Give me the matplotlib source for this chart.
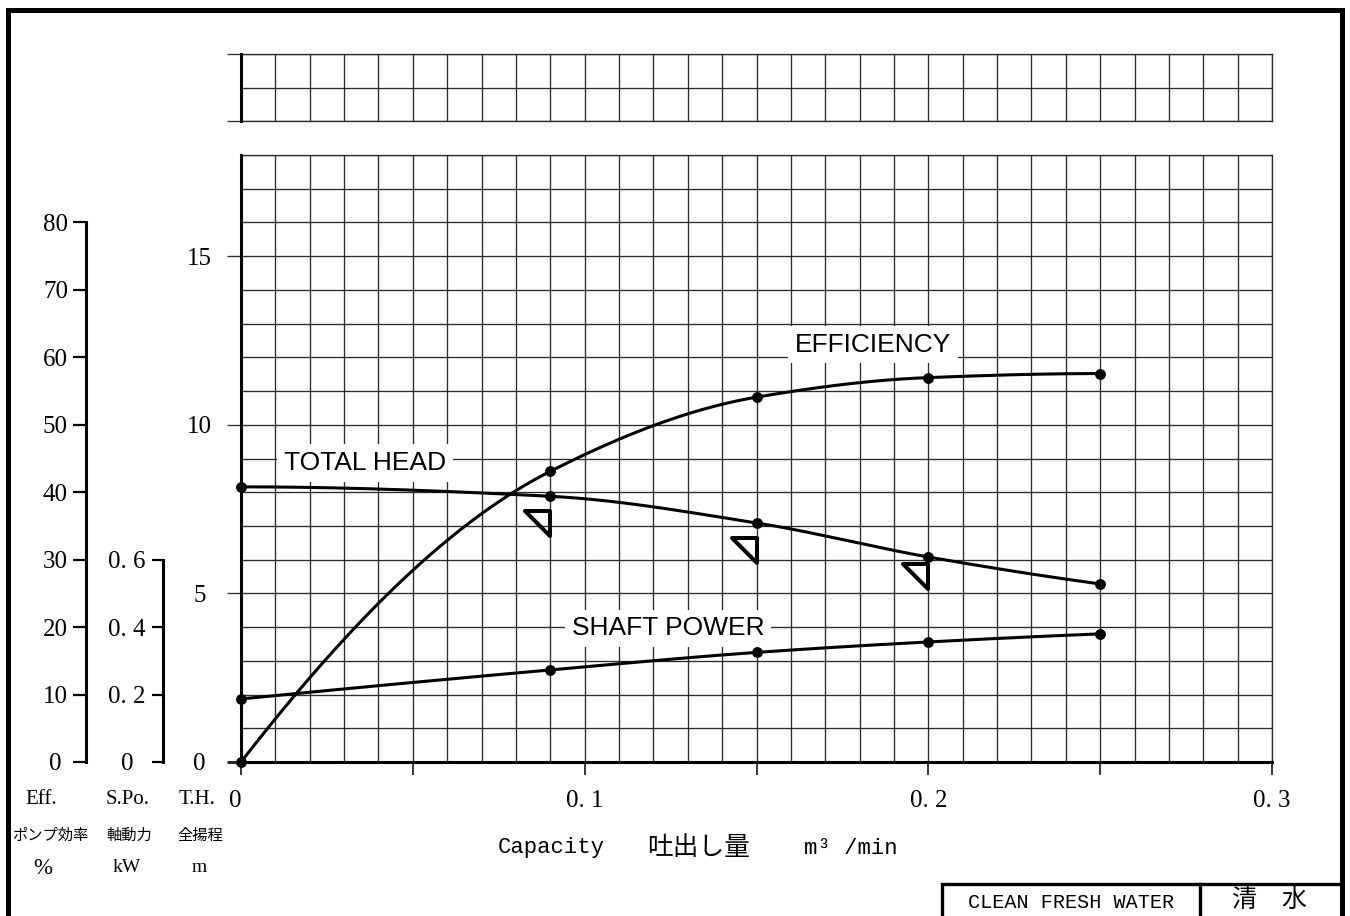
import numpy as np
import matplotlib
matplotlib.use("Agg")
import matplotlib.pyplot as plt
from matplotlib.ticker import MultipleLocator, FixedLocator
from matplotlib.path import Path
from matplotlib.markers import MarkerStyle
from matplotlib.lines import Line2D
from matplotlib.transforms import ScaledTranslation

# ---------------- data ----------------
capacity = [0.0, 0.09, 0.15, 0.20, 0.25]          # m3/min
total_head = [8.16, 7.88, 7.09, 6.08, 5.28]       # m
efficiency = [0.0, 43.1, 54.1, 57.0, 57.6]        # %
shaft_power = [0.187, 0.273, 0.325, 0.356, 0.380] # kW

rated_capacity = [0.09, 0.15, 0.20]
rated_head = [7.45, 6.65, 5.87]

x_ticks = [0.0, 0.05, 0.10, 0.15, 0.20, 0.25, 0.30]
x_tick_labels = ["0", "", "0. 1", "", "0. 2", "", "0. 3"]
head_ticks = [0, 5, 10, 15]
head_tick_labels = ["0", "5", "10", "15"]
eff_ticks = [0, 10, 20, 30, 40, 50, 60, 70, 80]
eff_tick_labels = ["0", "10", "20", "30", "40", "50", "60", "70", "80"]
power_ticks = [0.0, 0.2, 0.4, 0.6]
power_tick_labels = ["0", "0. 2", "0. 4", "0. 6"]

# ---------------- helpers ----------------
W, H = 1350, 916
def fx(px):
    return px / W
def fy(py):
    return 1 - py / H

def pchip(x, y, xs):
    x = np.asarray(x, float); y = np.asarray(y, float)
    h = np.diff(x); d = np.diff(y) / h
    n = len(x)
    m = np.zeros(n)
    for k in range(1, n - 1):
        if d[k - 1] * d[k] > 0:
            w1 = 2 * h[k] + h[k - 1]; w2 = h[k] + 2 * h[k - 1]
            m[k] = (w1 + w2) / (w1 / d[k - 1] + w2 / d[k])
    def end(h0, h1, d0, d1):
        mm = ((2 * h0 + h1) * d0 - h0 * d1) / (h0 + h1)
        if np.sign(mm) != np.sign(d0):
            mm = 0.0
        elif np.sign(d0) != np.sign(d1) and abs(mm) > abs(3 * d0):
            mm = 3 * d0
        return mm
    m[0] = end(h[0], h[1], d[0], d[1])
    m[-1] = end(h[-1], h[-2], d[-1], d[-2])
    idx = np.clip(np.searchsorted(x, xs) - 1, 0, n - 2)
    t = (xs - x[idx]) / h[idx]
    h00 = 2 * t**3 - 3 * t**2 + 1
    h10 = t**3 - 2 * t**2 + t
    h01 = -2 * t**3 + 3 * t**2
    h11 = t**3 - t**2
    return h00 * y[idx] + h10 * h[idx] * m[idx] + h01 * y[idx + 1] + h11 * h[idx] * m[idx + 1]

SERIF = "Liberation Serif"
SANS = "Liberation Sans"
MONO = "Liberation Mono"
CJK = "Noto Sans CJK JP"

GC = "#2b2b2b"   # grid colour
GLW = 0.95

fig = plt.figure(figsize=(13.5, 9.16), dpi=100)

X0, X1 = 241, 1272
Y0 = 762
PPM = 33.72
TOP_M = 18
main_rect = [fx(X0), fy(Y0), (X1 - X0) / W, TOP_M * PPM / H]

# ---------------- main grid axes (total head) ----------------
ax = fig.add_axes(main_rect)
ax.set_xlim(0, 0.3)
ax.set_ylim(0, TOP_M)
ax.xaxis.set_major_locator(FixedLocator(x_ticks))
ax.set_xticklabels(x_tick_labels, fontfamily=SERIF, fontsize=18)
ax.xaxis.set_minor_locator(MultipleLocator(0.01))
ax.yaxis.set_major_locator(FixedLocator(head_ticks))
ax.set_yticklabels(head_tick_labels, fontfamily=SERIF, fontsize=18, ha="center")
ax.yaxis.set_minor_locator(MultipleLocator(1))
ax.grid(which="both", color=GC, lw=GLW)
ax.set_axisbelow(True)
ax.tick_params(axis="x", which="major", direction="out", length=9.4, width=1.1,
               color="black", pad=10.5)
ax.tick_params(axis="y", which="major", direction="out", length=10, width=GLW,
               color=GC, pad=20)
ax.tick_params(which="minor", length=0)
for side in ("top", "right"):
    ax.spines[side].set_color(GC)
    ax.spines[side].set_linewidth(GLW)
for side in ("left", "bottom"):
    ax.spines[side].set_color("black")
    ax.spines[side].set_linewidth(2.2)
ax.yaxis.get_major_ticks()[0].tick1line.set_markeredgewidth(2.2)
ax.yaxis.get_major_ticks()[0].tick1line.set_color("black")
first_xlabel = ax.xaxis.get_major_ticks()[0].label1
first_xlabel.set_transform(first_xlabel.get_transform()
                           + ScaledTranslation(-6 / 100, 0, fig.dpi_scale_trans))

# ---------------- upper strip ----------------
top_rect = [fx(X0), fy(Y0 - 19 * PPM), (X1 - X0) / W, 2 * PPM / H]
axt = fig.add_axes(top_rect)
axt.set_xlim(0, 0.3)
axt.set_ylim(19, 21)
axt.xaxis.set_major_locator(MultipleLocator(0.05))
axt.xaxis.set_minor_locator(MultipleLocator(0.01))
axt.yaxis.set_major_locator(FixedLocator([19, 21]))
axt.yaxis.set_minor_locator(FixedLocator([20]))
axt.grid(which="both", color=GC, lw=GLW)
axt.tick_params(axis="x", which="both", length=0, labelbottom=False)
axt.tick_params(axis="y", which="major", direction="out", length=10, width=GLW,
                color=GC, labelleft=False)
axt.tick_params(axis="y", which="minor", length=0)
for side in ("top", "right", "bottom"):
    axt.spines[side].set_color(GC)
    axt.spines[side].set_linewidth(GLW)
axt.spines["left"].set_linewidth(2.2)

# ---------------- left scales ----------------
def side_scale(xpx, ymax, bound, ticks, labels, ticklen, pad):
    a = fig.add_axes([fx(xpx), fy(Y0), 0.0005, TOP_M * PPM / H])
    a.set_ylim(0, ymax)
    a.patch.set_visible(False)
    for side in ("top", "right", "bottom"):
        a.spines[side].set_visible(False)
    a.spines["left"].set_bounds(0, bound)
    a.spines["left"].set_linewidth(2.2)
    a.spines["left"].set_capstyle("projecting")
    a.set_xticks([])
    a.yaxis.set_major_locator(FixedLocator(ticks))
    a.set_yticklabels(labels, fontfamily=SERIF, fontsize=18, ha="center")
    a.tick_params(axis="y", direction="out", length=ticklen, width=1.6, pad=pad)
    return a

side_scale(86, TOP_M * 5, 80, eff_ticks, eff_tick_labels, 9.4, 12.6)
side_scale(163, TOP_M * 0.1, 0.6, power_ticks, power_tick_labels, 8.0, 18.0)

# ---------------- curves ----------------
ax_e = ax.twinx(); ax_e.set_ylim(0, TOP_M * 5); ax_e.axis("off")
ax_p = ax.twinx(); ax_p.set_ylim(0, TOP_M * 0.1); ax_p.axis("off")

xs = np.linspace(capacity[0], capacity[-1], 400)
LW = 2.2
MS = 6.8
ax.plot(xs, pchip(capacity, total_head, xs), color="black", lw=LW, clip_on=False, zorder=3)
ax.plot(capacity, total_head, "o", color="black", ms=MS, clip_on=False, zorder=4)
ax_e.plot(xs, pchip(capacity, efficiency, xs), color="black", lw=LW, clip_on=False, zorder=3)
ax_e.plot(capacity, efficiency, "o", color="black", ms=MS, clip_on=False, zorder=4)
ax_p.plot(xs, pchip(capacity, shaft_power, xs), color="black", lw=LW, clip_on=False, zorder=3)
ax_p.plot(capacity, shaft_power, "o", color="black", ms=MS, clip_on=False, zorder=4)

tri_path = Path([(-1, 0), (0, 0), (0, -1), (-1, 0)],
                [Path.MOVETO, Path.LINETO, Path.LINETO, Path.CLOSEPOLY])
tri_marker = MarkerStyle(tri_path, joinstyle="miter")
ax.plot(rated_capacity, rated_head, linestyle="none", marker=tri_marker, ms=36,
        mfc="none", mec="black", mew=2.9, zorder=4)

# ---------------- curve labels ----------------
box = dict(boxstyle="square,pad=0.25", fc="white", ec="none")
for txt, q, hm in (("TOTAL HEAD", 0.0361, 8.87),
                   ("EFFICIENCY", 0.1839, 12.37),
                   ("SHAFT POWER", 0.1242, 3.97)):
    ax_p.text(q, hm, txt, transform=ax.transData, ha="center", va="center",
              fontfamily=SANS, fontsize=19, bbox=box, zorder=10)

# ---------------- bottom-left axis names ----------------
for x, t in ((41, "Eff."), (128, "S.Po."), (197, "T.H.")):
    fig.text(fx(x), fy(800), t, ha="center", va="center", fontfamily=SERIF, fontsize=15)
for x, t in ((50, "ポンプ効率"), (129, "軸動力"), (200, "全揚程")):
    fig.text(fx(x), fy(835), t, ha="center", va="center", fontfamily=CJK, fontsize=11)
fig.text(fx(43), fy(868), "%", ha="center", va="center", fontfamily=SERIF, fontsize=16.5)
fig.text(fx(127), fy(868), "kW", ha="center", va="center", fontfamily=SERIF, fontsize=14)
fig.text(fx(199), fy(868), "m", ha="center", va="center", fontfamily=SERIF, fontsize=14)

# ---------------- x-axis title ----------------
fig.text(fx(498), fy(848), "Capacity", ha="left", va="center", fontfamily=MONO, fontsize=16)
fig.text(fx(647), fy(848), "吐出し量", ha="left", va="center", fontfamily=CJK, fontsize=18.5)
fig.text(fx(804), fy(848), "m³ /min", ha="left", va="center", fontfamily=MONO, fontsize=16)

# ---------------- frame and title box ----------------
fig.add_artist(Line2D([fx(7.5), fx(7.5), fx(1341.5), fx(1341.5)],
                      [fy(925), fy(9.5), fy(9.5), fy(925)],
                      transform=fig.transFigure, color="black", lw=3.6,
                      solid_joinstyle="miter", solid_capstyle="projecting"))
fig.add_artist(Line2D([fx(942), fx(942), fx(1341)], [fy(925), fy(884), fy(884)],
                      transform=fig.transFigure, color="black", lw=2.4,
                      solid_joinstyle="miter"))
fig.add_artist(Line2D([fx(1200), fx(1200)], [fy(884), fy(925)],
                      transform=fig.transFigure, color="black", lw=2.4))
fig.text(fx(1071), fy(902), "CLEAN FRESH WATER", ha="center", va="center",
         fontfamily=MONO, fontsize=14.5)
fig.text(fx(1270), fy(900), "清\u3000水", ha="center", va="center",
         fontfamily=CJK, fontsize=18)

fig.savefig("out.png", dpi=100)
